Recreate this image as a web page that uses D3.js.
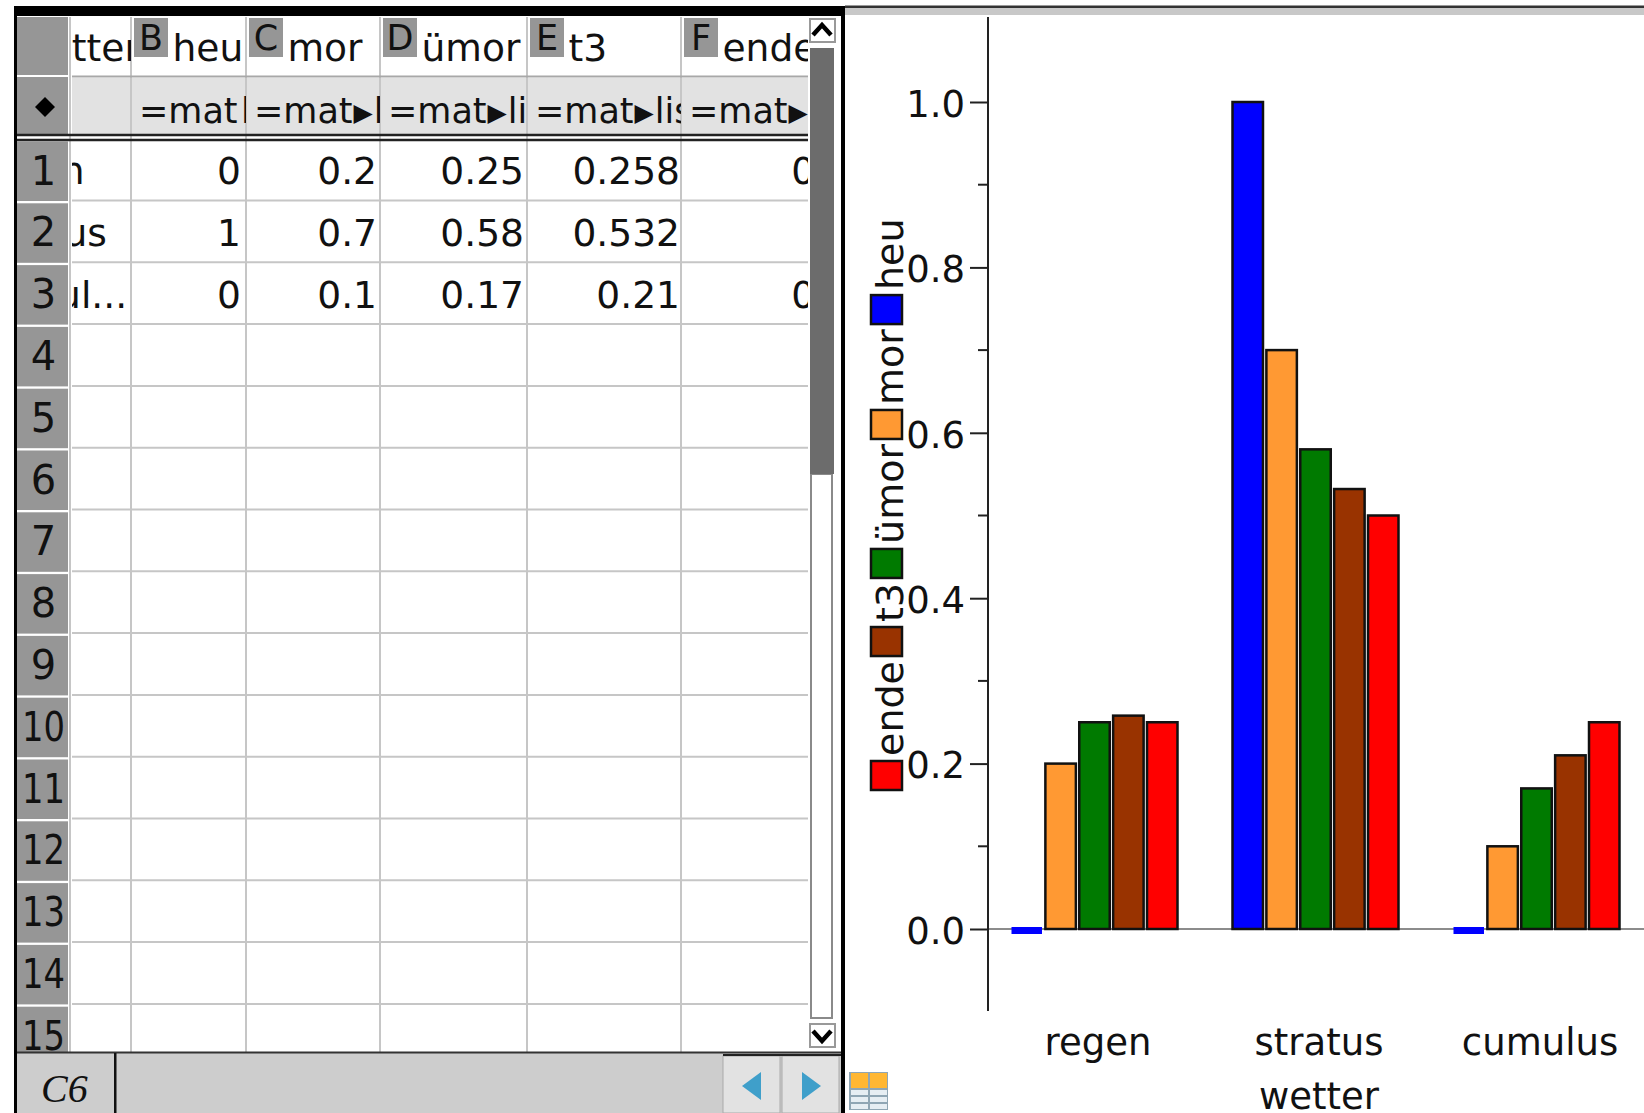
<!DOCTYPE html>
<html>
<head>
<meta charset="utf-8">
<script src="https://cdn.jsdelivr.net/npm/d3@7"></script>
<style>
  html, body { margin: 0; padding: 0; background: #fff; }
  svg { display: block; font-family: "DejaVu Sans", sans-serif; fill: #111; }
</style>
</head>
<body>
<div id="chart"></div>
<script>
// values
const categories = ['regen', 'stratus', 'cumulus'];
const tableCategories = ['regen', 'stratus', 'cumul...'];
const seriesNames = ['heu', 'mor', 'ümor', 't3', 'ende'];
const seriesColors = ['#0000ff', '#ff9933', '#007a00', '#993300', '#ff0000'];
const heu = [0, 1, 0];
const mor = [0.2, 0.7, 0.1];
const uemor = [0.25, 0.58, 0.17];
const t3 = [0.258, 0.532, 0.21];
const ende = [0.25, 0.5, 0.25];
const seriesValues = [heu, mor, uemor, t3, ende];
const yMajor = [0, 0.2, 0.4, 0.6, 0.8, 1.0];
const yMinor = [0.1, 0.3, 0.5, 0.7, 0.9];
const rowNumbers = d3.range(1, 16);
const columnLetters = ['B', 'C', 'D', 'E', 'F'];
const formulas = ['=mat\u200Al', '=mat▶l', '=mat▶li', '=mat▶lis', '=mat▶'];
const columnEdges = [131, 246, 380, 527, 681];
const columnRight = [241, 377, 524, 680, 875];
const columnEnd = [246, 380, 527, 681, 808];

const width = 1644, height = 1113;
const svg = d3.select('#chart').append('svg')
  .attr('width', width)
  .attr('height', height);

const grid = { left: 17, right: 808, top: 17, bottom: 1052 };
const rowY = d3.scaleLinear().domain([1, 2]).range([141.5, 203.3]);
const fontSize = 37.6;

svg.append('defs').selectAll('clipPath')
  .data(columnEdges.map((x, i) => ({ id: `col${i}`, x: x + 2, w: columnEnd[i] - x - 2 })))
  .enter().append('clipPath')
  .attr('id', d => d.id)
  .append('rect')
  .attr('x', d => d.x).attr('y', grid.top)
  .attr('width', d => d.w).attr('height', grid.bottom - grid.top);

const clipA = svg.select('defs').append('clipPath').attr('id', 'colA');
clipA.append('rect').attr('x', 72).attr('y', grid.top).attr('width', 59).attr('height', grid.bottom - grid.top);
svg.select('defs').append('clipPath').attr('id', 'gridClip')
  .append('rect').attr('x', 0).attr('y', 0).attr('width', width).attr('height', grid.bottom);

// ---- spreadsheet ----
const sheet = svg.append('g').attr('class', 'sheet');

sheet.append('rect').attr('x', 72).attr('y', 78).attr('width', grid.right - 72).attr('height', 57).attr('fill', '#e2e2e2');
sheet.append('rect').attr('x', grid.left).attr('y', grid.top).attr('width', 51).attr('height', 58).attr('fill', '#969696');
sheet.append('rect').attr('x', grid.left).attr('y', 77).attr('width', 51).attr('height', 58).attr('fill', '#969696');
sheet.append('path').attr('d', 'M45 97 L55 107 L45 117 L35 107 Z').attr('fill', '#000');

// row headers
sheet.append('g').attr('clip-path', 'url(#gridClip)')
  .selectAll('rect').data(rowNumbers).enter().append('rect')
  .attr('x', grid.left).attr('y', d => rowY(d))
  .attr('width', 51).attr('height', 59.5)
  .attr('fill', '#969696');

sheet.append('g').attr('clip-path', 'url(#gridClip)')
  .selectAll('text').data(rowNumbers).enter().append('text')
  .attr('x', 43.5).attr('y', d => rowY(d) + 43)
  .attr('text-anchor', 'middle')
  .style('font-size', '40px')
  .attr('textLength', d => d > 9 ? 43 : null)
  .attr('lengthAdjust', 'spacingAndGlyphs')
  .text(d => d);

// grid lines
sheet.append('g').selectAll('line').data(rowNumbers).enter().append('line')
  .attr('x1', 72).attr('x2', grid.right)
  .attr('y1', d => rowY(d) + 59).attr('y2', d => rowY(d) + 59)
  .attr('stroke', '#c6c6c6').attr('stroke-width', 2)
  .filter(d => d === 15).remove();
sheet.append('g').selectAll('line').data([70].concat(columnEdges)).enter().append('line')
  .attr('x1', d => d).attr('x2', d => d)
  .attr('y1', grid.top).attr('y2', grid.bottom)
  .attr('stroke', '#c6c6c6').attr('stroke-width', 2);
sheet.append('line').attr('x1', 72).attr('x2', grid.right).attr('y1', 76.5).attr('y2', 76.5)
  .attr('stroke', '#a8a8a8').attr('stroke-width', 2);
[135, 140].forEach(y => {
  sheet.append('line').attr('x1', grid.left).attr('x2', grid.right).attr('y1', y).attr('y2', y)
    .attr('stroke', '#222').attr('stroke-width', 2.5);
});

// column A, scrolled off to the left
const colA = sheet.append('g').attr('clip-path', 'url(#colA)').style('font-size', `${fontSize}px`);
colA.append('text').attr('x', 18).attr('y', 61).text('wetter');
colA.selectAll('text.cat').data(tableCategories).enter().append('text')
  .attr('class', 'cat')
  .attr('x', -24)
  .attr('y', (d, i) => rowY(i + 1) + 42.5)
  .text(d => d);

// data columns
seriesNames.forEach((name, c) => {
  const col = sheet.append('g').attr('clip-path', `url(#col${c})`).style('font-size', `${fontSize}px`);
  col.append('text').attr('x', columnEdges[c] + 41.5).attr('y', 61).text(name);
  const formula = col.append('text').attr('x', columnEdges[c] + 8).attr('y', 123).style('font-size', '35px');
  formulas[c].split('▶').forEach((part, p) => {
    if (p > 0) formula.append('tspan').style('font-size', '25px').attr('dx', 1).attr('dy', -2).text('▶');
    formula.append('tspan').attr('dx', p > 0 ? 1 : 0).attr('dy', p > 0 ? 2 : 0).text(part);
  });
  col.selectAll('text.val').data(seriesValues[c]).enter().append('text')
    .attr('class', 'val')
    .attr('x', columnRight[c])
    .attr('y', (d, i) => rowY(i + 1) + 42.5)
    .attr('text-anchor', 'end')
    .text(d => d);
});

// column letter boxes
const letters = sheet.append('g').selectAll('g').data(columnLetters).enter().append('g')
  .attr('transform', (d, i) => `translate(${columnEdges[i] + 3},18)`);
letters.append('rect').attr('width', 34).attr('height', 39).attr('fill', '#969696');
letters.append('text').attr('x', 17).attr('y', 32).attr('text-anchor', 'middle')
  .style('font-size', '35px').text(d => d);

// scrollbar
const scroll = svg.append('g').attr('class', 'scroll');
scroll.append('rect').attr('x', grid.right).attr('y', grid.top).attr('width', 33).attr('height', 1035).attr('fill', '#fff');
scroll.append('rect').attr('x', 811).attr('y', 474).attr('width', 21).attr('height', 544)
  .attr('fill', '#fff').attr('stroke', '#8a8a8a').attr('stroke-width', 2);
scroll.append('rect').attr('x', 810).attr('y', 48).attr('width', 24).attr('height', 426).attr('fill', '#6c6c6c');
scroll.append('rect').attr('x', 810).attr('y', 19).attr('width', 25).attr('height', 23)
  .attr('fill', '#fff').attr('stroke', '#999').attr('stroke-width', 2);
scroll.append('path').attr('d', 'M813 35 L822 25 L831 35').attr('fill', 'none').attr('stroke', '#000').attr('stroke-width', 4.5);
scroll.append('rect').attr('x', 810).attr('y', 1024).attr('width', 25).attr('height', 23)
  .attr('fill', '#fff').attr('stroke', '#999').attr('stroke-width', 2);
scroll.append('path').attr('d', 'M813 1031 L822 1041 L831 1031').attr('fill', 'none').attr('stroke', '#000').attr('stroke-width', 4.5);

// bottom status bar
const bar = svg.append('g').attr('class', 'status');
bar.append('rect').attr('x', 17).attr('y', 1052).attr('width', 824).attr('height', 61).attr('fill', '#cdcdcd');
bar.append('line').attr('x1', 17).attr('x2', 841).attr('y1', 1052.5).attr('y2', 1052.5).attr('stroke', '#333').attr('stroke-width', 2);
bar.append('rect').attr('x', 114).attr('y', 1053).attr('width', 2.5).attr('height', 60).attr('fill', '#111');
bar.append('text').attr('x', 41).attr('y', 1102)
  .style('font-family', '"Liberation Serif", serif').style('font-style', 'italic').style('font-size', '40px')
  .text('C6');
bar.selectAll('rect.btn').data([723, 782]).enter().append('rect').attr('class', 'btn')
  .attr('x', d => d).attr('y', 1056).attr('width', 57).attr('height', 57)
  .attr('fill', '#e2e2e2').attr('stroke', '#aaa');
bar.append('line').attr('x1', 723).attr('x2', 841).attr('y1', 1055).attr('y2', 1055).attr('stroke', '#222').attr('stroke-width', 2);
bar.append('path').attr('d', 'M742 1086 L761 1072 L761 1100 Z').attr('fill', '#3f9fca');
bar.append('path').attr('d', 'M821 1086 L802 1072 L802 1100 Z').attr('fill', '#3f9fca');

// frame
svg.append('rect').attr('x', 845).attr('y', 8).attr('width', 799).attr('height', 7).attr('fill', '#c8c8c8');
svg.append('rect').attr('x', 845).attr('y', 5.5).attr('width', 799).attr('height', 2.5).attr('fill', '#333');
svg.append('rect').attr('x', 14).attr('y', 6).attr('width', 831).attr('height', 10).attr('fill', '#000');
svg.append('rect').attr('x', 14).attr('y', 6).attr('width', 3).attr('height', 1107).attr('fill', '#000');
svg.append('rect').attr('x', 841).attr('y', 6).attr('width', 4).attr('height', 1107).attr('fill', '#000');

// layout icon
const icon = svg.append('g').attr('class', 'icon');
icon.append('rect').attr('x', 849).attr('y', 1072).attr('width', 39).attr('height', 38).attr('fill', '#8fa6b4');
icon.selectAll('rect.top').data([851, 870]).enter().append('rect').attr('class', 'top')
  .attr('x', d => d).attr('y', 1073).attr('width', 17).attr('height', 15).attr('fill', '#ffb733');
icon.selectAll('rect.cell').data(d3.cross([851, 870], [1090, 1097, 1104])).enter().append('rect').attr('class', 'cell')
  .attr('x', d => d[0]).attr('y', d => d[1]).attr('width', 17).attr('height', 5).attr('fill', '#e6eef3');

// ---- bar chart ----
const chart = svg.append('g').attr('class', 'chart');
const axisX = 988;
const y = d3.scaleLinear().domain([0, 1]).range([929, 102]);
const x0 = d3.scaleBand().domain(categories).range([984, 1647]);
const x1 = d3.scaleBand().domain(seriesNames).range([-83, 83]).paddingInner(0.1);
const color = d3.scaleOrdinal().domain(seriesNames).range(seriesColors);

// zero line
chart.append('line').attr('x1', axisX).attr('x2', width).attr('y1', y(0)).attr('y2', y(0))
  .attr('stroke', '#8c8c8c').attr('stroke-width', 2);

const groups = chart.selectAll('g.group')
  .data(categories).enter().append('g').attr('class', 'group')
  .attr('transform', d => `translate(${x0(d) + x0.bandwidth() / 2},0)`);

groups.selectAll('rect')
  .data((d, i) => seriesNames.map((name, s) => ({ name, value: seriesValues[s][i] })))
  .enter().append('rect')
  .attr('x', d => x1(d.name))
  .attr('width', x1.bandwidth())
  .attr('y', d => d.value === 0 ? y(0) - 2 : y(d.value))
  .attr('height', d => d.value === 0 ? 7 : y(0) - y(d.value))
  .attr('fill', d => color(d.name))
  .attr('stroke', d => d.value === 0 ? 'none' : '#111')
  .attr('stroke-width', 2.5);

groups.append('text')
  .attr('x', 3.5)
  .attr('y', 1055)
  .attr('text-anchor', 'middle')
  .style('font-size', '37px')
  .text(d => d);

chart.append('text')
  .attr('x', x0('stratus') + x0.bandwidth() / 2 + 3.5)
  .attr('y', 1109)
  .attr('text-anchor', 'middle')
  .style('font-size', '37px')
  .text('wetter');

// y axis
const axis = chart.append('g')
  .attr('transform', `translate(${axisX},0)`)
  .call(d3.axisLeft(y).tickValues(yMajor).tickSize(18).tickPadding(5).tickFormat(d3.format('.1f')));
axis.select('.domain').attr('d', `M0,17V1011`).attr('stroke', '#222').attr('stroke-width', 2);
axis.selectAll('.tick line').attr('stroke', '#222').attr('stroke-width', 2);
axis.selectAll('.tick text')
  .attr('y', 2.5)
  .style('font-size', '37px')
  .style('font-family', '"DejaVu Sans", sans-serif')
  .attr('fill', '#111');
chart.append('g').selectAll('line').data(yMinor).enter().append('line')
  .attr('x1', axisX - 10).attr('x2', axisX)
  .attr('y1', d => y(d)).attr('y2', d => y(d))
  .attr('stroke', '#222').attr('stroke-width', 2);

// vertical legend, stacked upwards from the bottom
const legend = chart.append('g').attr('class', 'legend');
let legendY = 790;
seriesNames.slice().reverse().forEach(name => {
  legend.append('rect')
    .attr('x', 871).attr('y', legendY - 29)
    .attr('width', 31).attr('height', 29)
    .attr('fill', color(name))
    .attr('stroke', '#111').attr('stroke-width', 2.5);
  legendY -= 34;
  const label = legend.append('text')
    .attr('transform', `translate(902.5,${legendY}) rotate(-90)`)
    .style('font-size', '38px')
    .text(name);
  legendY -= label.node().getComputedTextLength() + 5;
});
</script>
</body>
</html>
